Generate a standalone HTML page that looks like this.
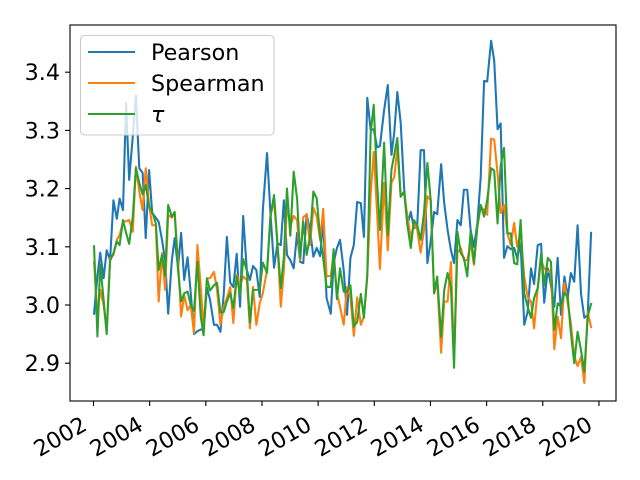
<!DOCTYPE html>
<html>
<head>
<meta charset="utf-8">
<title>Pearson, Spearman and tau time series</title>
<style>
html,body{margin:0;padding:0;background:#fff;width:640px;height:480px;overflow:hidden}
svg{display:block}
text{font-family:"DejaVu Sans","Liberation Sans",sans-serif;fill:#000}
</style>
</head>
<body>
<svg id="chart" width="640" height="480" viewBox="0 0 640 480" xmlns="http://www.w3.org/2000/svg"></svg>
<script>
const dates = [2002.02,2002.14,2002.24,2002.36,2002.47,2002.59,2002.71,2002.83,2002.93,2003.05,2003.16,2003.27,2003.40,2003.51,2003.63,2003.75,2003.86,2003.98,2004.09,2004.22,2004.32,2004.44,2004.55,2004.66,2004.79,2004.89,2005.01,2005.12,2005.23,2005.35,2005.46,2005.58,2005.70,2005.82,2005.92,2006.04,2006.15,2006.29,2006.40,2006.52,2006.64,2006.75,2006.87,2006.98,2007.10,2007.22,2007.33,2007.46,2007.57,2007.68,2007.80,2007.92,2008.03,2008.18,2008.30,2008.43,2008.55,2008.67,2008.78,2008.89,2009.01,2009.13,2009.25,2009.36,2009.47,2009.59,2009.71,2009.83,2009.95,2010.07,2010.18,2010.30,2010.45,2010.55,2010.67,2010.78,2010.91,2011.03,2011.15,2011.27,2011.39,2011.52,2011.63,2011.75,2011.87,2011.98,2012.10,2012.20,2012.35,2012.48,2012.61,2012.71,2012.82,2012.94,2013.06,2013.18,2013.30,2013.41,2013.53,2013.65,2013.77,2013.89,2014.01,2014.13,2014.24,2014.38,2014.49,2014.61,2014.73,2014.84,2014.96,2015.08,2015.19,2015.31,2015.43,2015.55,2015.67,2015.79,2015.91,2016.02,2016.16,2016.27,2016.39,2016.50,2016.62,2016.74,2016.86,2016.98,2017.09,2017.21,2017.34,2017.46,2017.58,2017.69,2017.82,2017.94,2018.05,2018.18,2018.29,2018.41,2018.53,2018.65,2018.77,2018.89,2019.00,2019.12,2019.24,2019.36,2019.48,2019.60,2019.72];
const pearson = [2.985,3.05,3.09,3.046,3.094,3.077,3.18,3.148,3.183,3.163,3.347,3.215,3.29,3.36,3.235,3.227,3.115,3.232,3.158,3.15,3.143,3.112,3.077,2.985,3.077,3.115,3.064,3.124,3.043,3.082,3.022,2.95,2.955,2.958,2.957,3.03,3.009,2.966,2.966,2.954,3.02,3.117,3.038,3.031,3.088,2.997,3.153,3.06,3.043,3.067,3.06,3.014,3.163,3.261,3.16,3.064,3.106,3.103,3.18,3.086,3.077,3.063,3.124,3.074,3.072,3.156,3.129,3.083,3.098,3.084,3.146,3.012,2.985,3.072,3.098,3.112,3.06,2.983,3.081,3.103,3.177,3.175,3.117,3.356,3.301,3.302,3.271,3.273,3.335,3.378,3.258,3.296,3.366,3.313,3.203,3.137,3.16,3.132,3.137,3.266,3.266,3.072,3.11,3.16,3.156,3.242,3.175,3.129,3.094,3.072,3.146,3.137,3.198,3.198,3.129,3.1,3.14,3.22,3.385,3.384,3.454,3.42,3.302,3.312,3.081,3.101,3.096,3.098,3.08,3.106,2.966,2.988,3.063,3.036,3.103,3.105,3.004,3.063,3.034,2.997,3.081,2.983,3.049,3.014,3.055,3.04,3.137,3.02,2.978,2.983,3.124];
const spearman = [3.074,2.98,3.026,3.0,2.957,3.08,3.086,3.112,3.12,3.143,3.144,3.146,3.126,3.238,3.195,3.163,3.235,3.172,3.137,3.137,3.006,3.089,3.026,3.155,3.15,3.158,3.077,2.98,3.017,2.991,3.0,2.952,3.103,3.031,2.96,3.046,3.046,3.057,3.026,2.966,2.997,3.012,3.031,2.969,3.052,3.034,3.049,3.043,2.96,3.031,2.966,3.003,3.02,3.06,3.152,3.18,3.106,2.997,3.06,3.172,3.135,3.153,3.146,3.077,3.151,3.155,3.103,3.167,3.152,3.112,3.165,3.049,3.05,3.085,3.02,2.997,2.966,3.031,3.014,2.947,3.013,2.966,2.98,3.049,3.19,3.263,3.158,3.062,3.21,3.094,3.21,3.22,3.27,3.186,3.195,3.152,3.115,3.14,3.129,3.09,3.129,3.187,3.18,3.02,3.04,2.918,3.006,3.006,3.074,2.905,3.09,3.098,3.077,3.077,3.106,3.069,3.135,3.169,3.163,3.155,3.286,3.284,3.226,3.158,3.172,3.123,3.103,3.141,3.1,3.123,3.049,3.014,3.006,2.96,3.029,3.077,3.063,3.057,3.06,2.924,2.98,2.943,3.038,3.003,2.969,2.912,2.895,2.911,2.866,2.988,2.962];
const tau = [3.101,2.946,3.07,3.009,2.95,3.076,3.089,3.109,3.103,3.146,3.124,3.105,3.152,3.235,3.21,3.19,3.206,3.169,3.16,3.14,3.06,3.086,3.05,3.172,3.152,3.16,3.06,3.006,3.02,3.023,3.0,2.99,3.074,2.98,2.948,3.046,3.025,3.034,3.038,2.987,2.988,3.006,3.02,2.995,3.049,3.017,3.079,3.06,2.97,3.026,3.026,3.026,3.073,3.055,3.152,3.189,3.106,3.029,3.083,3.2,3.119,3.229,3.183,3.081,3.143,3.086,3.117,3.195,3.183,3.117,3.081,3.031,3.031,3.096,3.01,3.063,3.023,3.023,3.034,2.963,2.971,3.019,2.978,3.052,3.295,3.344,3.21,3.129,3.279,3.12,3.232,3.258,3.287,3.186,3.195,3.137,3.098,3.146,3.137,3.112,3.158,3.244,3.18,3.02,3.049,2.945,3.026,3.055,3.031,2.892,3.126,3.089,3.081,3.049,3.126,3.072,3.135,3.172,3.152,3.18,3.235,3.231,3.14,3.24,3.27,3.123,3.123,3.072,3.07,3.146,3.02,2.997,2.978,3.012,3.029,3.089,3.034,3.081,3.074,2.957,3.003,2.997,3.021,3.014,2.952,2.9,2.954,2.923,2.885,2.98,3.002];
const xTickYears = [2002,2004,2006,2008,2010,2012,2014,2016,2018,2020];
const yTickValues = [2.9,3.0,3.1,3.2,3.3,3.4];
const yTickLabels = ["2.9","3.0","3.1","3.2","3.3","3.4"];

const NS = 'http://www.w3.org/2000/svg';
const svg = document.getElementById('chart');
const plot = {left:70, right:616, top:25, bottom:401};
function xScale(year){ return 93.5 + (year - 2002) * 28.08; }
function yScale(v){ return 305 - (v - 3) * 582; }
function make(tag, attrs, parent){
  const el = document.createElementNS(NS, tag);
  for (const k in attrs) el.setAttribute(k, attrs[k]);
  (parent || svg).appendChild(el);
  return el;
}
function drawLine(values, color, name){
  const pts = values.map((v,i) => xScale(dates[i]).toFixed(2) + ',' + yScale(v).toFixed(2)).join(' ');
  const line = make('polyline', {points:pts, fill:'none', stroke:color, 'stroke-width':2.08, 'stroke-linejoin':'round', 'stroke-linecap':'square'});
  
  
}
drawLine(pearson, '#1f77b4', 'pearson-line');
drawLine(spearman, '#ff7f0e', 'spearman-line');
drawLine(tau, '#2ca02c', 'tau-line');

const xAxis = make('g', {});


xTickYears.forEach(function(yr){
  const x = xScale(yr);
  const tick = make('line', {x1:x, x2:x, y1:plot.bottom, y2:plot.bottom + 5, stroke:'#000', 'stroke-width':1.1}, xAxis);
  
  
  const px = x - 5, py = 429;
  const label = make('text', {x:px, y:py, 'font-size':22.22, 'text-anchor':'end', transform:'rotate(-30 ' + px + ' ' + py + ')'}, xAxis);
  label.textContent = String(yr);
  
  
});

const yAxis = make('g', {});


yTickValues.forEach(function(v,i){
  const y = yScale(v);
  const tick = make('line', {x1:plot.left - 5, x2:plot.left, y1:y, y2:y, stroke:'#000', 'stroke-width':1.1}, yAxis);
  
  
  const label = make('text', {x:60, y:y + 8, 'font-size':22.22, 'text-anchor':'end'}, yAxis);
  label.textContent = yTickLabels[i];
  
  
});

const frame = make('rect', {x:plot.left, y:plot.top, width:plot.right - plot.left, height:plot.bottom - plot.top, fill:'none', stroke:'#000', 'stroke-width':1.1});


</script>
<script>
const legendSvg = document.getElementById('chart');
const legendGroup = document.createElementNS('http://www.w3.org/2000/svg', 'g');


legendSvg.appendChild(legendGroup);
const legendBox = document.createElementNS('http://www.w3.org/2000/svg', 'rect');
legendBox.setAttribute('x', '80.5');
legendBox.setAttribute('y', '35.5');
legendBox.setAttribute('width', '193.5');
legendBox.setAttribute('height', '99.5');
legendBox.setAttribute('rx', '4');
legendBox.setAttribute('fill', '#fff');
legendBox.setAttribute('fill-opacity', '0.8');
legendBox.setAttribute('stroke', '#ccc');
legendBox.setAttribute('stroke-width', '1.1');


legendGroup.appendChild(legendBox);
const legendNames = ['Pearson', 'Spearman', 'τ'];
const legendColors = ['#1f77b4', '#ff7f0e', '#2ca02c'];
const legendRowY = [52, 83, 114];
legendNames.forEach(function(name, i){
  const swatch = document.createElementNS('http://www.w3.org/2000/svg', 'line');
  swatch.setAttribute('x1', '88');
  swatch.setAttribute('x2', '135');
  swatch.setAttribute('y1', legendRowY[i]);
  swatch.setAttribute('y2', legendRowY[i]);
  swatch.setAttribute('stroke', legendColors[i]);
  swatch.setAttribute('stroke-width', '2.08');
  
  
  legendGroup.appendChild(swatch);
  const label = document.createElementNS('http://www.w3.org/2000/svg', 'text');
  label.setAttribute('x', '151');
  label.setAttribute('y', legendRowY[i] + 8);
  label.setAttribute('font-size', '22.22');
  if (i === 2) label.setAttribute('font-style', 'italic');
  label.textContent = name;
  
  
  legendGroup.appendChild(label);
});
</script>
</body>
</html>
